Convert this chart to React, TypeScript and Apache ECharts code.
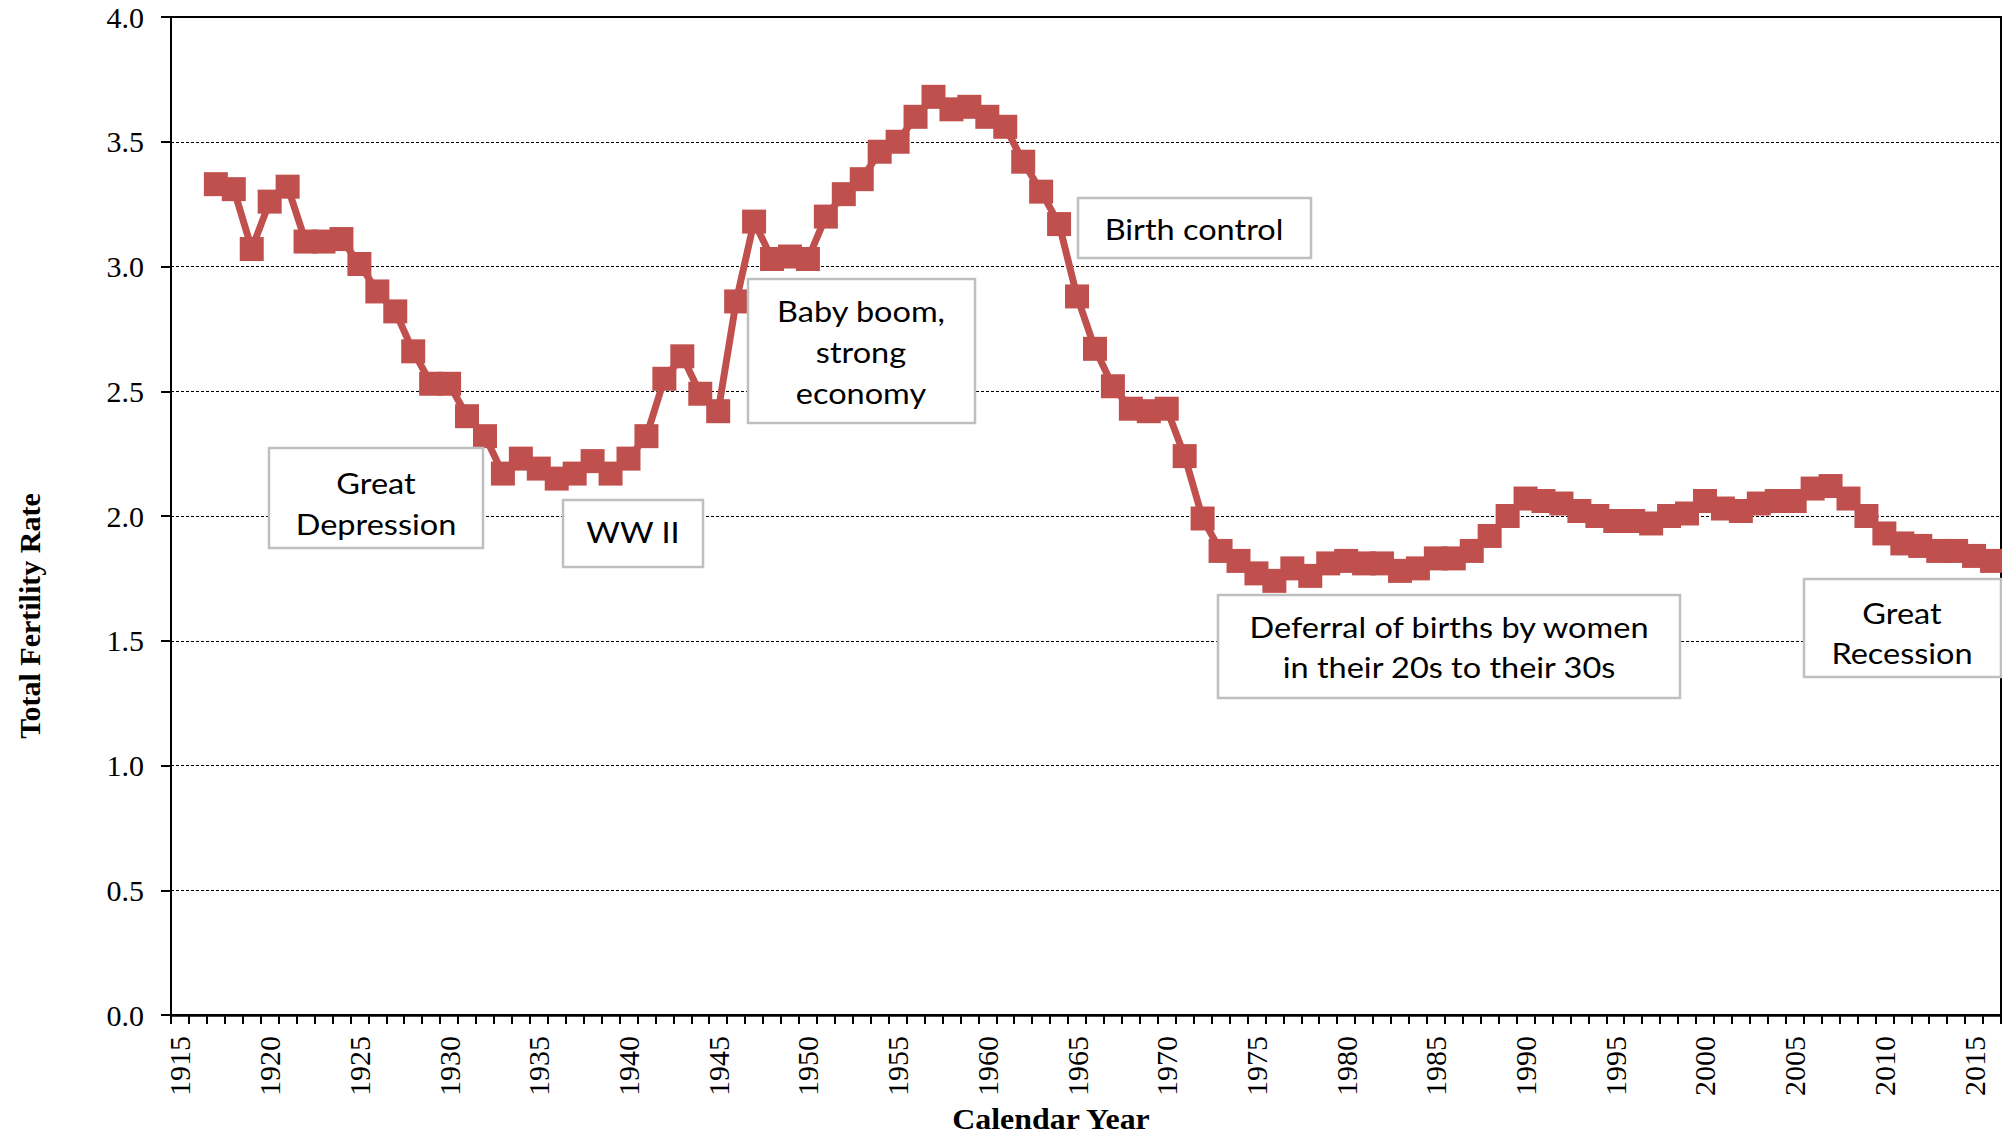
import React, { useEffect, useRef } from "react";
import * as echarts from "echarts";

// ---- Data -------------------------------------------------------------
const FIRST_YEAR = 1915;
const LAST_YEAR = 2016;
const DATA_START_YEAR = 1917;

// Total fertility rate, 1917-2016
const tfrValues = [
  // 1917-1926
  3.33, 3.31, 3.07, 3.26, 3.32, 3.10, 3.10, 3.11, 3.01, 2.90,
  // 1927-1936
  2.82, 2.66, 2.53, 2.53, 2.40, 2.32, 2.17, 2.23, 2.19, 2.15,
  // 1937-1946
  2.17, 2.22, 2.17, 2.23, 2.32, 2.55, 2.64, 2.49, 2.42, 2.86,
  // 1947-1956
  3.18, 3.03, 3.04, 3.03, 3.20, 3.29, 3.35, 3.46, 3.50, 3.60,
  // 1957-1966
  3.68, 3.63, 3.64, 3.60, 3.56, 3.42, 3.30, 3.17, 2.88, 2.67,
  // 1967-1976
  2.52, 2.43, 2.42, 2.43, 2.24, 1.99, 1.86, 1.82, 1.77, 1.74,
  // 1977-1986
  1.79, 1.76, 1.81, 1.82, 1.81, 1.81, 1.78, 1.79, 1.83, 1.83,
  // 1987-1996
  1.86, 1.92, 2.00, 2.07, 2.06, 2.05, 2.02, 2.00, 1.98, 1.98,
  // 1997-2006
  1.97, 2.00, 2.01, 2.06, 2.03, 2.02, 2.05, 2.06, 2.06, 2.11,
  // 2007-2016
  2.12, 2.07, 2.00, 1.93, 1.89, 1.88, 1.86, 1.86, 1.84, 1.82,
];

const yTicks = [0, 0.5, 1, 1.5, 2, 2.5, 3, 3.5, 4];

const categories: string[] = [];
for (let y = FIRST_YEAR; y <= LAST_YEAR; y++) categories.push(String(y));

const annotationLines = {
  depression: ["Great", "Depression"],
  ww2: ["WW II"],
  babyBoom: ["Baby boom,", "strong", "economy"],
  birthControl: ["Birth control"],
  deferral: ["Deferral of births by women", "in their 20s to their 30s"],
  recession: ["Great", "Recession"],
};

// ---- Styling helpers ----------------------------------------------------
const SERIF = '"Liberation Serif", "Times New Roman", serif';
const SANS = 'Lato, "Noto Sans", sans-serif';
const RED = "#C0504D";

function box(x: number, y: number, w: number, h: number, cx: number, lineYs: number[], lines: string[]) {
  const children: any[] = [
    {
      type: "rect",
      shape: { x, y, width: w, height: h },
      style: { fill: "#ffffff", stroke: "#BFBFBF", lineWidth: 2.5 },
      z: 100,
    },
  ];
  lines.forEach((t, i) => {
    children.push({
      type: "text",
      x: cx,
      y: lineYs[i],
      scaleX: 1.16,
      z: 101,
      style: {
        text: t,
        fill: "#000",
        fontSize: 28,
        fontFamily: SANS,
        textAlign: "center",
        textVerticalAlign: "middle",
      },
    });
  });
  return children;
}

export default function App() {
  const ref = useRef<HTMLDivElement>(null);

  useEffect(() => {
    if (!ref.current) return;
    const chart = echarts.init(ref.current, undefined, { renderer: "svg" });

    const seriesData = categories.map((c) => {
      const yr = Number(c);
      const idx = yr - DATA_START_YEAR;
      return idx >= 0 && idx < tfrValues.length ? tfrValues[idx] : "-";
    });

    const graphics: any[] = [
      ...box(269, 448, 214, 100, 376, [483, 524], annotationLines.depression),
      ...box(563, 500, 140, 67, 633, [532], annotationLines.ww2),
      ...box(748, 279, 227, 144, 861, [311, 352, 393], annotationLines.babyBoom),
      ...box(1078, 198, 233, 60, 1194, [229], annotationLines.birthControl),
      ...box(1218, 595, 462, 103, 1449, [627, 667], annotationLines.deferral),
      ...box(1804, 579, 197, 98, 1902, [613, 653], annotationLines.recession),
      {
        type: "text",
        x: 29,
        y: 616,
        rotation: Math.PI / 2,
        style: {
          text: "Total Fertility Rate",
          fill: "#000",
          fontSize: 30,
          fontWeight: "bold",
          fontFamily: SERIF,
          textAlign: "center",
          textVerticalAlign: "middle",
        },
      },
      {
        type: "text",
        x: 1051,
        y: 1119,
        scaleX: 1.1,
        style: {
          text: "Calendar Year",
          fill: "#000",
          fontSize: 29,
          fontWeight: "bold",
          fontFamily: SERIF,
          textAlign: "center",
          textVerticalAlign: "middle",
        },
      },
    ];

    chart.setOption({
      animation: false,
      backgroundColor: "#ffffff",
      grid: {
        left: 171,
        right: 1,
        top: 17,
        bottom: 119,
        show: true,
        borderColor: "#000",
        borderWidth: 2,
        backgroundColor: "transparent",
      },
      xAxis: {
        type: "category",
        data: categories,
        boundaryGap: true,
        axisLine: { show: true, lineStyle: { color: "#000", width: 2.5 } },
        axisTick: { show: true, interval: 0, length: 9, lineStyle: { color: "#000", width: 2 } },
        axisLabel: {
          interval: 4,
          rotate: 90,
          margin: 21,
          color: "#000",
          fontSize: 30,
          fontFamily: SERIF,
        },
        splitLine: { show: false },
      },
      yAxis: {
        type: "value",
        min: yTicks[0],
        max: yTicks[yTicks.length - 1],
        interval: 0.5,
        axisLine: { show: true, lineStyle: { color: "#000", width: 2 } },
        axisTick: { show: true, length: 10, lineStyle: { color: "#000", width: 2 } },
        axisLabel: {
          margin: 27,
          color: "#000",
          fontSize: 30,
          fontFamily: SERIF,
          formatter: (v: number) => v.toFixed(1),
        },
        splitLine: { show: true, lineStyle: { color: "#000", width: 1, type: [3, 2] } },
      },
      series: [
        {
          type: "line",
          data: seriesData,
          symbol: "rect",
          symbolSize: 24,
          showAllSymbol: true,
          connectNulls: false,
          lineStyle: { color: RED, width: 7 },
          itemStyle: { color: RED },
          z: 3,
        },
      ],
      graphic: graphics,
    });

    return () => chart.dispose();
  }, []);

  return (
    <div
      ref={ref}
      style={{ position: "absolute", left: 0, top: 0, width: 2002, height: 1134, background: "#fff" }}
    />
  );
}
